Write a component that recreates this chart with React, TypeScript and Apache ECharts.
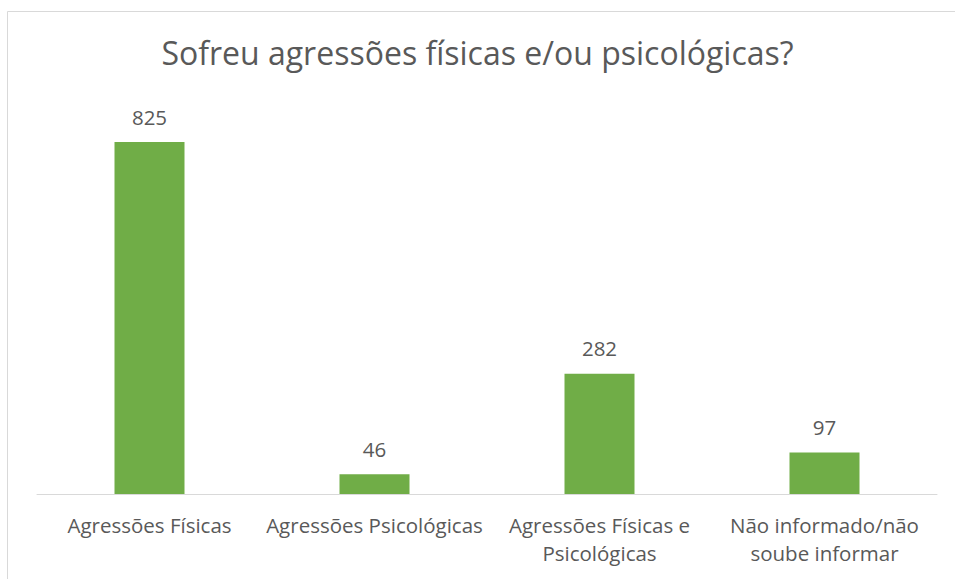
import React, { useEffect, useRef } from "react";
import * as echarts from "echarts";

const categories = [
  "Agressões Físicas",
  "Agressões Psicológicas",
  "Agressões Físicas e\nPsicológicas",
  "Não informado/não\nsoube informar",
];
const values = [825, 46, 282, 97];
const titleText = "Sofreu agressões físicas e/ou psicológicas?";

const FONT = "'Open Sans', 'Noto Sans', sans-serif";
const TXT = "#595959";

export default function App() {
  const ref = useRef<HTMLDivElement>(null);
  useEffect(() => {
    if (!ref.current) return;
    const chart = echarts.init(ref.current, undefined, { renderer: "svg" });
    chart.setOption({
      animation: false,
      backgroundColor: "#ffffff",
      title: {
        text: titleText,
        left: "center",
        top: 31,
        textStyle: { fontFamily: FONT, fontSize: 32, fontWeight: "normal", color: TXT },
      },
      graphic: [
        {
          type: "rect",
          shape: { x: 7.5, y: 11.5, width: 1200, height: 1200 },
          style: { fill: "none", stroke: "#d9d9d9", lineWidth: 1 },
          silent: true,
        },
      ],
      grid: { left: 37, right: 18, top: 110, bottom: 85, containLabel: false },
      xAxis: {
        type: "category",
        data: categories,
        axisLine: { show: true, lineStyle: { color: "#d9d9d9", width: 1 } },
        axisTick: { show: false },
        axisLabel: {
          interval: 0,
          margin: 17,
          color: TXT,
          fontFamily: FONT,
          fontSize: 20.5,
          lineHeight: 28,
        },
      },
      yAxis: {
        type: "value",
        min: 0,
        max: 900,
        show: false,
        splitLine: { show: false },
      },
      series: [
        {
          type: "bar",
          data: values,
          barWidth: 70,
          itemStyle: { color: "#70ad47" },
          label: {
            show: true,
            position: "top",
            distance: 15,
            color: TXT,
            fontFamily: FONT,
            fontSize: 20.5,
          },
        },
      ],
    });
    return () => chart.dispose();
  }, []);
  return (
    <div
      ref={ref}
      style={{ position: "absolute", left: 0, top: 0, width: 955, height: 579 }}
    />
  );
}
